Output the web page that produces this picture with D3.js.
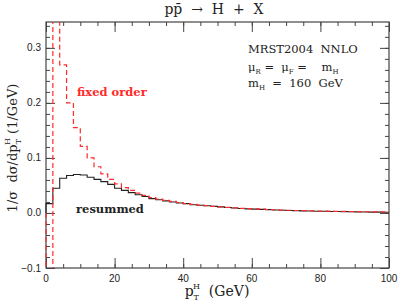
<!doctype html>
<html>
<head>
<meta charset="utf-8">
<style>
  body { margin: 0; background: #fff; }
  svg text { font-family: "DejaVu Serif", "Liberation Serif", serif; white-space: pre; }
  .tick-label { font: 10px "Liberation Sans", Arial, sans-serif; fill: #222; }
</style>
<script src="https://d3js.org/d3.v7.min.js"></script>
</head>
<body>
<script>
// 2 GeV bins from 0 to 100
var binEdges = [0, 2, 4, 6, 8, 10, 12, 14, 16, 18, 20, 22, 24, 26, 28, 30, 32, 34, 36, 38, 40,
  42, 44, 46, 48, 50, 52, 54, 56, 58, 60, 62, 64, 66, 68, 70, 72, 74, 76, 78, 80,
  82, 84, 86, 88, 90, 92, 94, 96, 98, 100];

var resummed = [0.017, 0.045, 0.063, 0.068, 0.070, 0.069, 0.065, 0.061, 0.057, 0.052,
  0.045, 0.041, 0.037, 0.033, 0.030, 0.026, 0.024, 0.022, 0.020, 0.018,
  0.017, 0.015, 0.014, 0.013, 0.012, 0.011, 0.010, 0.009, 0.008, 0.0075,
  0.007, 0.0065, 0.006, 0.0055, 0.005, 0.0046, 0.0042, 0.0038, 0.0035, 0.0032,
  0.003, 0.0028, 0.0026, 0.0024, 0.0022, 0.002, 0.0018, 0.0016, 0.0015, 0.0014];

var fixedOrder = [-0.2, 0.5, 0.269, 0.200, 0.155, 0.121, 0.100, 0.084, 0.071, 0.061,
  0.053, 0.046, 0.041, 0.036, 0.032, 0.028, 0.025, 0.023, 0.021, 0.019,
  0.017, 0.0155, 0.0143, 0.0132, 0.0121, 0.0111, 0.0102, 0.0093, 0.0085, 0.0079,
  0.0073, 0.0068, 0.0063, 0.0058, 0.0053, 0.0049, 0.0045, 0.0042, 0.0039, 0.0036,
  0.0034, 0.0032, 0.003, 0.0028, 0.0026, 0.0024, 0.0022, 0.0021, 0.002, 0.0019];

var xTicks = [0, 20, 40, 60, 80, 100];
var yTicks = [-0.1, 0.0, 0.1, 0.2, 0.3];
var yTickLabels = ["\u22120.1", "0.0", "0.1", "0.2", "0.3"];

var W = 399, H = 303;
var pL = 46, pR = 389, pT = 22, pB = 268;

var x = d3.scaleLinear().domain([0, 100]).range([pL, pR]);
var y = d3.scaleLinear().domain([-0.1, 0.347]).range([pB, pT]);

var svg = d3.select("body").append("svg")
  .attr("width", W)
  .attr("height", H);

svg.append("clipPath").attr("id", "plot")
  .append("rect")
  .attr("x", pL - 1).attr("y", pT)
  .attr("width", pR - pL + 1).attr("height", pB - pT);

// axes: ticks inside on all four sides
var axisColor = "#444";
var yMinor = d3.range(-0.1, 0.347, 0.02);
var xAxisB = d3.axisBottom(x).tickValues(xTicks).tickSize(-10).tickFormat("");
var xMinorB = d3.axisBottom(x).ticks(25).tickSize(-4).tickFormat("");
var xAxisT = d3.axisTop(x).tickValues(xTicks).tickSize(-10).tickFormat("");
var xMinorT = d3.axisTop(x).ticks(25).tickSize(-4).tickFormat("");
var yAxisL = d3.axisLeft(y).tickValues(yTicks).tickSize(-9).tickFormat("");
var yMinorL = d3.axisLeft(y).tickValues(yMinor).tickSize(-4).tickFormat("");
var yAxisR = d3.axisRight(y).tickValues(yTicks).tickSize(-9).tickFormat("");
var yMinorR = d3.axisRight(y).tickValues(yMinor).tickSize(-4).tickFormat("");

[[xAxisB, "translate(0," + pB + ")"], [xMinorB, "translate(0," + pB + ")"],
 [xAxisT, "translate(0," + pT + ")"], [xMinorT, "translate(0," + pT + ")"],
 [yAxisL, "translate(" + pL + ",0)"], [yMinorL, "translate(" + pL + ",0)"],
 [yAxisR, "translate(" + pR + ",0)"], [yMinorR, "translate(" + pR + ",0)"]]
  .forEach(function (a) {
    var ax = svg.append("g").attr("transform", a[1]).call(a[0]);
    ax.selectAll("path").remove();
    ax.selectAll("text").remove();
    ax.selectAll("line").attr("stroke", axisColor);
  });

svg.append("rect")
  .attr("x", pL).attr("y", pT)
  .attr("width", pR - pL).attr("height", pB - pT)
  .attr("fill", "none").attr("stroke", axisColor).attr("stroke-width", 1.2);

// histogram step lines
function stepPoints(vals) {
  var pts = [[0, 0]];
  vals.forEach(function (v, i) { pts.push([binEdges[i], v]); });
  pts.push([binEdges[binEdges.length - 1], vals[vals.length - 1]]);
  return pts;
}

var line = d3.line()
  .x(function (d) { return x(d[0]); })
  .y(function (d) { return y(d[1]); })
  .curve(d3.curveStepAfter);

var g = svg.append("g").attr("clip-path", "url(#plot)");

g.append("path")
  .attr("d", line(stepPoints(resummed)))
  .attr("fill", "none")
  .attr("stroke", "#222")
  .attr("stroke-width", 1.1);

g.append("path")
  .attr("d", line(stepPoints(fixedOrder)))
  .attr("fill", "none")
  .attr("stroke", "#ff2a2a")
  .attr("stroke-width", 1.2)
  .attr("stroke-dasharray", "5,3");

// tick labels
svg.selectAll(".xl").data(xTicks).enter().append("text")
  .attr("class", "tick-label")
  .attr("x", function (d) { return x(d); })
  .attr("y", pB + 14)
  .attr("text-anchor", "middle")
  .text(function (d) { return d; });

svg.selectAll(".yl").data(yTicks).enter().append("text")
  .attr("class", "tick-label")
  .attr("x", pL - 5)
  .attr("y", function (d) { return y(d) + 3.5; })
  .attr("text-anchor", "end")
  .text(function (d, i) { return yTickLabels[i]; });

// title
svg.append("text")
  .attr("x", 214).attr("y", 14)
  .attr("text-anchor", "middle")
  .attr("font-size", 14).attr("fill", "#222")
  .text("pp\u0304  \u2192  H  +  X");

// x label
var xl = svg.append("text")
  .attr("x", 217).attr("y", 296)
  .attr("text-anchor", "middle")
  .attr("font-size", 14).attr("fill", "#222");
xl.append("tspan").text("p");
xl.append("tspan").attr("font-size", 8).attr("dy", 4).text("T");
xl.append("tspan").attr("font-size", 8).attr("dx", -6).attr("dy", -11).text("H");
xl.append("tspan").attr("dy", 7).text("  (GeV)");

// y label
var yl = svg.append("text")
  .attr("transform", "translate(17,148) rotate(-90)")
  .attr("text-anchor", "middle")
  .attr("font-size", 13).attr("fill", "#222");
yl.append("tspan").text("1/\u03c3  d\u03c3/dp");
yl.append("tspan").attr("font-size", 8).attr("dy", 4).text("T");
yl.append("tspan").attr("font-size", 8).attr("dx", -6).attr("dy", -11).text("H");
yl.append("tspan").attr("dy", 7).text(" (1/GeV)");

// annotations
svg.append("text")
  .attr("x", 77).attr("y", 96)
  .attr("font-size", 11.5).attr("font-weight", "bold")
  .attr("fill", "#ff2a2a")
  .text("fixed order");

svg.append("text")
  .attr("x", 76).attr("y", 213)
  .attr("font-size", 11.5).attr("font-weight", "bold")
  .attr("fill", "#222")
  .text("resummed");

svg.append("text")
  .attr("x", 248).attr("y", 53)
  .attr("font-size", 11.5).attr("fill", "#222")
  .text("MRST2004  NNLO");

var mu = svg.append("text")
  .attr("x", 248).attr("y", 71)
  .attr("font-size", 11.5).attr("fill", "#222");
mu.append("tspan").text("\u03bc");
mu.append("tspan").attr("font-size", 7).attr("dy", 3).text("R");
mu.append("tspan").attr("dy", -3).text(" =  \u03bc");
mu.append("tspan").attr("font-size", 7).attr("dy", 3).text("F");
mu.append("tspan").attr("dy", -3).text(" =    m");
mu.append("tspan").attr("font-size", 7).attr("dy", 3).text("H");

var mh = svg.append("text")
  .attr("x", 248).attr("y", 87)
  .attr("font-size", 11.5).attr("fill", "#222");
mh.append("tspan").text("m");
mh.append("tspan").attr("font-size", 7).attr("dy", 3).text("H");
mh.append("tspan").attr("dy", -3).text("  =  160  GeV");
</script>
</body>
</html>
